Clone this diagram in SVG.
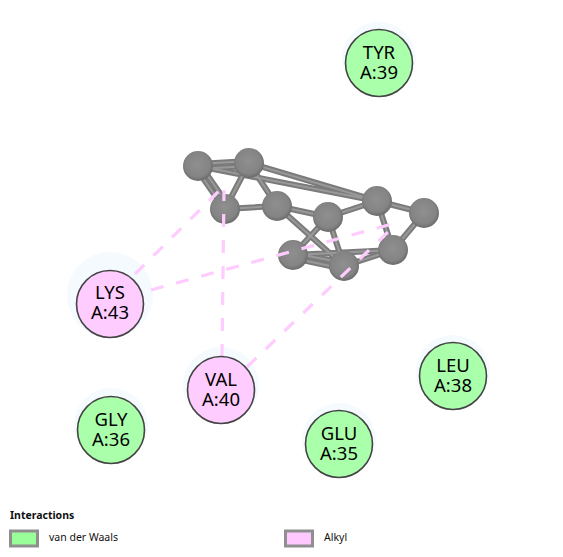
<svg xmlns="http://www.w3.org/2000/svg" width="563" height="557" viewBox="0 0 563 557">
<style>
.halo{fill:#f5faff}
.res{stroke:#444;stroke-width:1.6}
.vdw{fill:#aaffaa}
.alk{fill:#ffccff}
.lab{font-family:"Noto Sans","DejaVu Sans",sans-serif;font-size:18.5px;fill:#000;text-anchor:middle}
.leg{font-family:"Noto Sans","DejaVu Sans",sans-serif;font-size:10.5px;fill:#111}
.b{stroke:#7b7b7b;stroke-width:6;fill:none}
.bi{stroke:#999;stroke-width:2;fill:none}
.d{stroke:#ffccff;stroke-width:3.2;stroke-dasharray:13 13;fill:none}
.atom{fill:url(#g)}
.sw{stroke:#8f8f8f;stroke-width:3}
</style>
<defs>
<radialGradient id="g" cx="0.48" cy="0.45" r="0.55">
<stop offset="0" stop-color="#8f8f8f"/><stop offset="0.75" stop-color="#848484"/><stop offset="1" stop-color="#6a6a6a"/>
</radialGradient>
<g id="bonds">
<path d="M198 164L249 161M198 169L249 166"/>
<path d="M196 168L223 207M201 166L228 205"/>
<path d="M249 163L225 209M249 163L277 206M225 209L277 206M277 206L328 217"/>
<path d="M328 217L377 201M377 201L424 213M424 213L393 250M377 201L393 250"/>
<path d="M393 250L344 266M293 253L344 263M293 258L344 269M328 217L344 266M328 217L293 255M277 206L344 266M293 255L393 250"/>
<path d="M198 166L377 201M249 163L377 201"/>
</g>
</defs>
<rect width="563" height="557" fill="#fff"/>
<g id="halos">
<circle class="halo" cx="110" cy="295" r="43"/>
<circle class="halo" cx="221" cy="385" r="38"/>
<circle class="halo" cx="111" cy="425" r="37"/>
<circle class="halo" cx="339" cy="440" r="37"/>
<circle class="halo" cx="453" cy="372" r="37"/>
<circle class="halo" cx="379" cy="59" r="37"/>
</g>
<g id="ligand">
<use href="#bonds" class="b"/>
<use href="#bonds" class="bi"/>
<circle class="atom" cx="198" cy="166" r="15"/>
<circle class="atom" cx="249" cy="163" r="15"/>
<circle class="atom" cx="225" cy="209" r="15"/>
<circle class="atom" cx="277" cy="206" r="15"/>
<circle class="atom" cx="328" cy="217" r="15"/>
<circle class="atom" cx="377" cy="201" r="15"/>
<circle class="atom" cx="424" cy="213" r="15"/>
<circle class="atom" cx="393" cy="250" r="15"/>
<circle class="atom" cx="344" cy="266" r="15"/>
<circle class="atom" cx="293" cy="255" r="15"/>
</g>
<g id="connectors">
<path class="d" d="M135 274L220 190"/>
<path class="d" d="M151 290L392 224"/>
<path class="d" d="M222 357L224 190"/>
<path class="d" d="M247 367L392 228"/>
</g>
<g id="lys"><circle class="res alk" cx="110" cy="304" r="33.5"/><text class="lab" x="110" y="299">LYS</text><text class="lab" x="110" y="319">A:43</text></g>
<g id="val"><circle class="res alk" cx="221" cy="390" r="33.5"/><text class="lab" x="221" y="386">VAL</text><text class="lab" x="221" y="406">A:40</text></g>
<g id="gly"><circle class="res vdw" cx="111" cy="430" r="33.5"/><text class="lab" x="111" y="426">GLY</text><text class="lab" x="111" y="446">A:36</text></g>
<g id="glu"><circle class="res vdw" cx="339" cy="444" r="33.5"/><text class="lab" x="339" y="440">GLU</text><text class="lab" x="339" y="460">A:35</text></g>
<g id="leu"><circle class="res vdw" cx="453" cy="376" r="33.5"/><text class="lab" x="453" y="372">LEU</text><text class="lab" x="453" y="392">A:38</text></g>
<g id="tyr"><circle class="res vdw" cx="379" cy="63" r="33.5"/><text class="lab" x="379" y="59">TYR</text><text class="lab" x="379" y="79">A:39</text></g>
<g id="legend">
<text class="leg" x="10" y="519" font-weight="bold" style="font-weight:bold">Interactions</text>
<rect class="sw" x="10.500" y="531" width="27" height="15" fill="#99ff99"/>
<text class="leg" x="49" y="541">van der Waals</text>
<rect class="sw" x="285.500" y="531" width="27" height="15" fill="#ffc8ff"/>
<text class="leg" x="324" y="541">Alkyl</text>
</g>
</svg>
